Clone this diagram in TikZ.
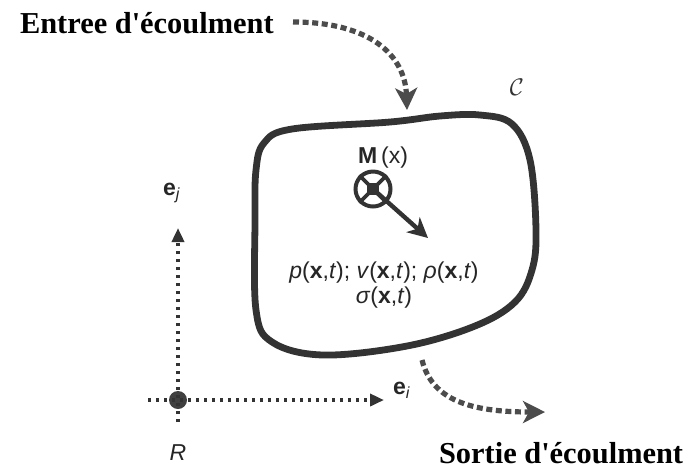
\documentclass[tikz,border=0pt]{standalone}
\usepackage{fontspec}
\setmainfont{Liberation Serif}
\setsansfont{Liberation Sans}
\usetikzlibrary{arrows.meta}

\begin{document}
\begin{tikzpicture}[x=0.5pt, y=-0.5pt, >=stealth,
    flux/.style={draw=black!70, line width=2.6pt, dash pattern=on 3pt off 1.8pt,
                 -{Stealth[length=11pt, width=11pt, inset=3pt]}},
    axe/.style={draw=black!80, line width=1.8pt, dash pattern=on 1.6pt off 2.4pt,
                -{Triangle[length=7pt, width=6pt]}},
    titre/.style={font=\fontsize{15.2}{18}\selectfont\bfseries},
    sf/.style={font=\sffamily\fontsize{11.5}{12.5}\selectfont, text=black!85}]

    \useasboundingbox (0,0) rectangle (688,468);

    % entree et sortie
    \node[titre, anchor=base west] (entree) at (13,33) {Entree d\textquotesingle écoulment};
    \node[titre, anchor=base west] (sortie) at (432,463) {Sortie d\textquotesingle écoulment};

    \coordinate (in0) at (293,22);
    \coordinate (in1) at (407,110);
    \draw[flux] (in0) .. controls (370,22) and (405,55) .. (in1);

    \coordinate (out0) at (422,360);
    \coordinate (out1) at (545,412);
    \draw[flux] (out0) .. controls (432,400) and (470,412) .. (out1);

    % domaine C
    \draw[draw=black!80, line width=3.4pt]
        plot[smooth cycle, tension=0.6] coordinates {
            (264,143) (292,129) (390,122) (440,116) (480,115) (512,124)
            (530,160) (536,230) (532,270) (515,302) (475,326) (407,346)
            (323,355) (272,342) (256,310) (255,220) (256,170)};
    \node[text=black!80, font=\fontsize{12.5}{14}\selectfont] (lblC) at (517,87) {$\mathcal{C}$};

    % point M
    \node[sf, anchor=base] (Mlbl) at (383,163) {\textbf{M}\,(x)};
    \node[circle, draw=black!80, line width=2pt, minimum size=17.5pt, inner sep=0pt] (M) at (373,189) {};
    \draw[black!80, line width=1.8pt] (M.north west) -- (M.south east);
    \draw[black!80, line width=1.8pt] (M.north east) -- (M.south west);
    \node[fill=black!80, minimum size=6pt, inner sep=0pt] (Mc) at (M.center) {};
    \coordinate (Mtip) at (428,238);
    \draw[black!80, line width=2.2pt, -{Stealth[length=10pt, width=10pt, inset=3pt]}] (M.center) -- (Mtip);

    \node[sf, align=center] (champs) at (384,285)
        {\textit{p}(\textbf{x},\textit{t}); \textit{v}(\textbf{x},\textit{t}); \textit{ρ}(\textbf{x},\textit{t})\\
         \textit{σ}(\textbf{x},\textit{t})};

    % repere R
    \node[circle, fill=black!75, minimum size=9pt, inner sep=0pt] (R0) at (178,400) {};
    \coordinate (hx0) at (148,400);
    \coordinate (hx1) at (384,400);
    \coordinate (vy0) at (178,422);
    \coordinate (vy1) at (178,228);
    \draw[axe] (hx0) -- (hx1);
    \draw[axe] (vy0) -- (vy1);
    \node[sf] (ei) at (402,390) {\textbf{e}\textsubscript{\textit{i}}};
    \node[sf] (ej) at (172,193) {\textbf{e}\textsubscript{\textit{j}}};
    \node[sf] (R) at (178,453) {\textit{R}};

\end{tikzpicture}
\end{document}
